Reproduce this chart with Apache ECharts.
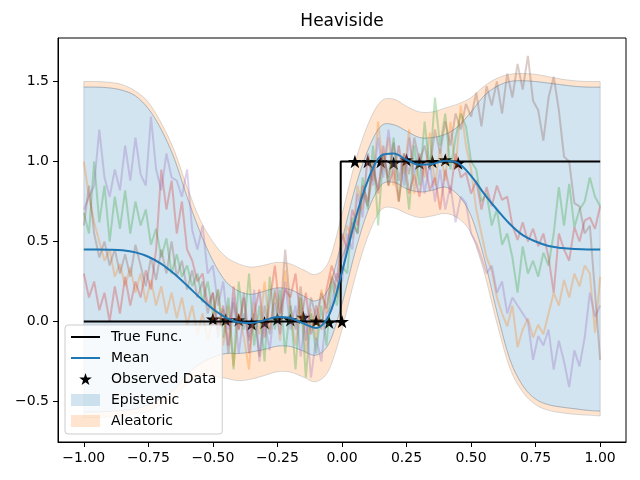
<!DOCTYPE html>
<html>
<head>
<meta charset="utf-8">
<title>Heaviside</title>
<script src="https://cdn.jsdelivr.net/npm/echarts@6/dist/echarts.min.js"></script>
<style>
  html, body { margin: 0; padding: 0; background: #fff; }
  #chart { width: 640px; height: 480px; }
</style>
</head>
<body>
<div id="chart"></div>
<script>
// posterior mean and band edges, every 0.05
const bandX = [-1.00, -0.95, -0.90, -0.85, -0.80, -0.75, -0.70, -0.65, -0.60, -0.55,
  -0.50, -0.45, -0.40, -0.35, -0.30, -0.25, -0.20, -0.15, -0.10, -0.05,
  0.00, 0.05, 0.10, 0.15, 0.20, 0.25, 0.30, 0.35, 0.40, 0.45,
  0.50, 0.55, 0.60, 0.65, 0.70, 0.75, 0.80, 0.85, 0.90, 0.95, 1.00]
const meanY = [0.450, 0.450, 0.449, 0.445, 0.432, 0.405, 0.360, 0.298, 0.225, 0.148,
  0.078, 0.025, -0.005, -0.010, 0.008, 0.028, 0.022, -0.012, -0.040, 0.040,
  0.310, 0.630, 0.880, 1.035, 1.050, 1.010, 0.980, 0.985, 1.005, 0.990,
  0.910, 0.800, 0.700, 0.610, 0.540, 0.500, 0.472, 0.460, 0.453, 0.450, 0.450]
// outer edge of aleatoric band (top)
const aleTop = [1.500, 1.500, 1.495, 1.480, 1.440, 1.370, 1.240, 1.070, 0.840, 0.638,
  0.498, 0.405, 0.360, 0.340, 0.353, 0.370, 0.360, 0.323, 0.295, 0.380,
  0.670, 0.990, 1.230, 1.375, 1.390, 1.345, 1.310, 1.310, 1.335, 1.360,
  1.400, 1.470, 1.520, 1.545, 1.550, 1.545, 1.530, 1.515, 1.505, 1.500, 1.500]
// epistemic band (top)
const epiTop = [1.465, 1.465, 1.460, 1.445, 1.410, 1.330, 1.200, 1.020, 0.780, 0.560,
  0.380, 0.250, 0.190, 0.170, 0.190, 0.210, 0.200, 0.160, 0.130, 0.215,
  0.510, 0.830, 1.070, 1.220, 1.230, 1.190, 1.150, 1.150, 1.170, 1.220,
  1.310, 1.410, 1.470, 1.500, 1.505, 1.500, 1.490, 1.480, 1.470, 1.465, 1.465]
// epistemic band (bottom)
const epiBottom = [-0.565, -0.565, -0.562, -0.555, -0.546, -0.520, -0.480, -0.424, -0.330, -0.264,
  -0.224, -0.200, -0.200, -0.190, -0.174, -0.154, -0.156, -0.184, -0.210, -0.135,
  0.110, 0.430, 0.690, 0.850, 0.870, 0.830, 0.810, 0.820, 0.840, 0.790,
  0.660, 0.400, 0.060, -0.235, -0.400, -0.485, -0.520, -0.535, -0.545, -0.555, -0.560]
// outer edge of aleatoric band (bottom)
const aleBottom = [-0.600, -0.600, -0.597, -0.590, -0.576, -0.560, -0.520, -0.474, -0.390, -0.342,
  -0.342, -0.355, -0.370, -0.360, -0.337, -0.314, -0.316, -0.347, -0.375, -0.300,
  -0.050, 0.270, 0.530, 0.695, 0.710, 0.675, 0.650, 0.660, 0.675, 0.645,
  0.550, 0.310, -0.010, -0.290, -0.440, -0.520, -0.555, -0.570, -0.580, -0.585, -0.590]

// five posterior samples, every 0.02
const sampleX = [-1.00, -0.98, -0.96, -0.94, -0.92, -0.90, -0.88, -0.86, -0.84, -0.82,
  -0.80, -0.78, -0.76, -0.74, -0.72, -0.70, -0.68, -0.66, -0.64, -0.62,
  -0.60, -0.58, -0.56, -0.54, -0.52, -0.50, -0.48, -0.46, -0.44, -0.42,
  -0.40, -0.38, -0.36, -0.34, -0.32, -0.30, -0.28, -0.26, -0.24, -0.22,
  -0.20, -0.18, -0.16, -0.14, -0.12, -0.10, -0.08, -0.06, -0.04, -0.02,
  0.00, 0.02, 0.04, 0.06, 0.08, 0.10, 0.12, 0.14, 0.16, 0.18,
  0.20, 0.22, 0.24, 0.26, 0.28, 0.30, 0.32, 0.34, 0.36, 0.38,
  0.40, 0.42, 0.44, 0.46, 0.48, 0.50, 0.52, 0.54, 0.56, 0.58,
  0.60, 0.62, 0.64, 0.66, 0.68, 0.70, 0.72, 0.74, 0.76, 0.78,
  0.80, 0.82, 0.84, 0.86, 0.88, 0.90, 0.92, 0.94, 0.96, 0.98, 1.00]
const sampleOrange = [1.00, 0.78, 0.62, 0.50, 0.38, 0.45, 0.28, 0.36, 0.22, 0.34,
  0.18, 0.30, 0.12, 0.26, 0.10, 0.22, 0.05, 0.18, 0.02, 0.15,
  -0.02, 0.10, -0.08, 0.05, -0.12, 0.02, 0.20, -0.15, 0.10, -0.28,
  0.05, -0.10, -0.30, 0.12, -0.08, 0.25, -0.05, 0.18, -0.12, 0.32,
  0.05, -0.15, 0.15, -0.20, 0.08, -0.12, 0.20, 0.05, 0.30, 0.15,
  0.45, 0.60, 0.52, 0.85, 0.70, 1.05, 0.88, 1.25, 0.95, 1.15,
  0.85, 1.10, 0.92, 1.20, 0.80, 1.05, 0.90, 1.18, 0.85, 1.08,
  0.88, 1.25, 0.95, 1.35, 1.10, 0.95, 0.70, 0.55, 0.40, 0.32,
  0.15, 0.05, -0.03, 0.10, -0.16, -0.05, 0.02, -0.10, -0.02, -0.08,
  0.05, 0.18, 0.10, 0.26, 0.15, 0.30, 0.22, 0.35, 0.30, -0.07, 0.28]
const sampleGreen = [0.68, 0.55, 1.00, 0.62, 0.85, 0.50, 0.78, 0.58, 0.82, 0.55,
  0.75, 0.60, 0.70, 0.48, 0.58, 0.40, 0.52, 0.30, 0.42, 0.28,
  0.35, 0.22, 0.30, 0.12, 0.25, 0.05, 0.20, -0.10, 0.15, -0.30,
  0.25, -0.05, 0.30, -0.15, 0.10, -0.25, 0.28, -0.05, 0.20, -0.20,
  0.10, -0.30, 0.15, -0.35, 0.05, -0.20, 0.10, -0.15, 0.25, 0.10,
  0.35, 0.30, 0.65, 0.55, 0.90, 0.70, 1.10, 0.60, 1.05, 0.85,
  1.15, 0.75, 1.00, 0.70, 1.10, 0.85, 1.25, 0.95, 1.40, 1.10,
  1.30, 0.95, 1.15, 1.30, 1.22, 1.00, 0.95, 0.75, 0.80, 0.60,
  0.70, 0.48, 0.55, 0.40, 0.18, 0.47, 0.30, 0.38, 0.28, 0.43,
  0.35, 0.55, 0.84, 0.60, 0.86, 0.59, 0.70, 0.75, 0.90, 0.78, 0.72]
const sampleRed = [0.30, 0.15, 0.25, 0.07, 0.18, 0.00, 0.22, 0.05, 0.28, 0.10,
  0.25, 0.15, 0.32, 0.20, 0.45, 0.95, 0.70, 0.88, 0.55, 0.75,
  0.45, 0.38, 0.25, 0.30, 0.10, 0.18, -0.05, 0.10, -0.15, 0.22,
  -0.05, 0.15, -0.20, 0.05, 0.20, -0.10, 0.12, 0.35, 0.05, 0.20,
  0.15, 0.30, 0.00, 0.18, -0.08, 0.10, -0.05, 0.20, 0.35, 0.25,
  0.55, 0.45, 0.70, 0.60, 0.85, 0.75, 1.00, 0.80, 1.10, 0.85,
  0.95, 0.75, 1.05, 0.80, 0.92, 0.78, 1.00, 0.82, 0.90, 0.70,
  0.95, 0.80, 1.05, 0.90, 0.93, 0.80, 0.88, 0.70, 0.84, 0.72,
  0.85, 0.76, 0.78, 0.60, 0.51, 0.62, 0.50, 0.58, 0.47, 0.55,
  0.40, 0.18, 0.55, 0.45, 0.38, 0.59, 0.50, 0.63, 0.65, 0.58, 0.72]
const samplePurple = [0.70, 0.78, 0.85, 1.20, 0.90, 0.78, 0.95, 0.82, 1.10, 0.88,
  1.15, 0.92, 0.85, 1.28, 0.95, 0.82, 1.05, 0.90, 0.88, 0.78,
  0.95, 0.57, 0.45, 0.60, 0.30, 0.35, 0.10, 0.25, -0.05, 0.15,
  -0.20, 0.05, -0.10, 0.20, -0.25, 0.00, -0.18, 0.12, -0.08, 0.25,
  -0.05, 0.10, -0.22, 0.05, -0.35, -0.10, -0.25, 0.05, 0.10, 0.30,
  0.25, 0.55, 0.45, 0.80, 0.65, 1.05, 0.85, 1.15, 0.90, 1.20,
  0.95, 1.10, 0.85, 1.15, 0.92, 1.05, 0.80, 1.00, 0.75, 0.95,
  0.70, 0.85, 0.62, 0.78, 0.74, 0.55, 0.49, 0.40, 0.30, 0.35,
  0.18, 0.25, 0.05, 0.15, 0.10, 0.05, 0.00, -0.24, -0.09, -0.15,
  -0.05, -0.30, -0.12, -0.25, -0.41, -0.18, -0.28, -0.10, 0.18, 0.03, 0.10]
const sampleBrown = [0.60, 0.85, 0.55, 0.40, 0.50, 0.35, 0.45, 0.30, 0.42, 0.28,
  0.48, 0.35, 0.22, 0.40, 0.26, 0.45, 0.30, 0.50, 0.28, 0.38,
  0.20, 0.32, 0.15, 0.25, 0.05, 0.18, -0.10, 0.08, -0.20, 0.12,
  -0.05, 0.18, -0.12, 0.05, -0.22, 0.10, -0.08, 0.20, 0.02, 0.45,
  0.10, -0.05, 0.22, -0.12, 0.15, 0.02, 0.18, 0.08, 0.28, 0.20,
  0.40, 0.48, 0.62, 0.55, 0.80, 0.72, 0.95, 0.82, 1.05, 0.90,
  1.12, 0.88, 1.05, 0.92, 1.15, 1.00, 1.10, 0.95, 1.20, 1.05,
  1.25, 1.10, 1.30, 1.20, 1.36, 1.28, 1.43, 1.22, 1.47, 1.35,
  1.50, 1.30, 1.55, 1.40, 1.61, 1.45, 1.66, 1.38, 1.32, 1.13,
  1.40, 1.53, 1.32, 1.03, 1.00, 0.74, 0.72, 0.55, 0.60, 0.18, -0.24]

// observed data
const obsX = [-0.50, -0.45, -0.40, -0.35, -0.30, -0.25, -0.20, -0.15, -0.10, -0.05, 0.00,
  0.05, 0.10, 0.15, 0.20, 0.25, 0.30, 0.35, 0.40, 0.45]
const obsY = [0.015, 0.010, 0.010, -0.015, -0.007, 0.015, 0.010, 0.026, 0.003, -0.005, 0.000,
  1.000, 1.000, 1.000, 0.990, 1.010, 0.990, 1.000, 1.010, 0.990]

// true function (step)
const trueX = [-1.0, -0.005, -0.005, 1.0]
const trueY = [0, 0, 1, 1]

const xTicks = [-1.0, -0.75, -0.5, -0.25, 0.0, 0.25, 0.5, 0.75, 1.0]
const yTicks = [-0.5, 0.0, 0.5, 1.0, 1.5]

const FONT = 'DejaVu Sans'
const STAR = 'path://M100,0 L122.45,69.1 L195.11,69.1 L136.33,111.8 L158.78,180.9 L100,138.2 L41.22,180.9 L63.67,111.8 L4.89,69.1 L77.55,69.1 Z'
const BLUE_FILL = 'rgba(31,119,180,0.2)'
const ORANGE_FILL = 'rgba(255,127,14,0.2)'
const EDGE = 'rgba(80,100,120,0.22)'

const pairs = (xs, ys) => xs.map((x, i) => [x, ys[i]])
const minus = s => s.replace('-', '\u2212')

// catmull-rom through pixel points, as svg path commands
function spline(pts, first) {
  let d = (first ? 'M' : 'L') + pts[0][0] + ',' + pts[0][1]
  for (let i = 0; i < pts.length - 1; i++) {
    const p0 = pts[Math.max(i - 1, 0)], p1 = pts[i], p2 = pts[i + 1], p3 = pts[Math.min(i + 2, pts.length - 1)]
    const c1 = [p1[0] + (p2[0] - p0[0]) / 6, p1[1] + (p2[1] - p0[1]) / 6]
    const c2 = [p2[0] - (p3[0] - p1[0]) / 6, p2[1] - (p3[1] - p1[1]) / 6]
    d += 'C' + c1[0] + ',' + c1[1] + ' ' + c2[0] + ',' + c2[1] + ' ' + p2[0] + ',' + p2[1]
  }
  return d
}

// filled region between two edges
const bandSeries = (name, lower, upper, fill) => ({
  name: name,
  type: 'custom',
  data: [0],
  z: 1,
  silent: true,
  renderItem: (params, api) => {
    const top = bandX.map((x, i) => api.coord([x, upper[i]]))
    const bottom = bandX.map((x, i) => api.coord([x, lower[i]])).reverse()
    return {
      type: 'path',
      shape: { pathData: spline(top, true) + spline(bottom, false) + 'Z' },
      style: { fill: fill, stroke: EDGE, lineWidth: 1 }
    }
  }
})

const sampleSeries = (data, color) => ({
  type: 'line',
  data: pairs(sampleX, data),
  symbol: 'none',
  z: 3,
  silent: true,
  lineStyle: { color: color, width: 2, opacity: 0.3 }
})

const noMarker = { color: 'rgba(0,0,0,0)', borderColor: 'rgba(0,0,0,0)', borderWidth: 0 }

const option = {
  animation: false,
  backgroundColor: '#fff',
  graphic: [{
    type: 'text', x: 342, y: 22,
    style: { text: 'Heaviside', textAlign: 'center', textVerticalAlign: 'middle',
      fontFamily: FONT, fontSize: 17, fill: '#000' }
  }],
  grid: { left: 58, right: 14, top: 38, bottom: 38, show: true, borderColor: '#000', borderWidth: 1 },
  xAxis: {
    type: 'value', min: -1.1, max: 1.1,
    splitLine: { show: false },
    axisLine: { onZero: false, lineStyle: { color: '#000', width: 1 } },
    axisTick: { show: true, length: 5, lineStyle: { color: '#000' }, customValues: xTicks },
    axisLabel: { customValues: xTicks, color: '#000', fontFamily: FONT, fontSize: 14, margin: 9,
      formatter: v => minus(v.toFixed(2)) }
  },
  yAxis: {
    type: 'value', min: -0.753, max: 1.772,
    splitLine: { show: false },
    axisLine: { show: true, onZero: false, lineStyle: { color: '#000', width: 1 } },
    axisTick: { show: true, length: 5, lineStyle: { color: '#000' }, customValues: yTicks },
    axisLabel: { customValues: yTicks, color: '#000', fontFamily: FONT, fontSize: 14, margin: 9,
      formatter: v => minus(v.toFixed(1)) }
  },
  legend: {
    orient: 'vertical',
    left: 65, top: 325,
    padding: [5, 6, 6, 5],
    itemWidth: 29, itemHeight: 12, itemGap: 7,
    backgroundColor: 'rgba(255,255,255,0.8)',
    borderColor: '#cccccc', borderWidth: 1, borderRadius: 3,
    selectedMode: false,
    symbolKeepAspect: true,
    textStyle: { fontFamily: FONT, fontSize: 14, color: '#000', padding: [0, 0, 0, 6] },
    data: [
      { name: 'True Func.', itemStyle: noMarker },
      { name: 'Mean', itemStyle: noMarker },
      { name: 'Observed Data' },
      { name: 'Epistemic', icon: 'rect', itemStyle: { color: BLUE_FILL, borderWidth: 0 } },
      { name: 'Aleatoric', icon: 'rect', itemStyle: { color: ORANGE_FILL, borderWidth: 0 } }
    ]
  },
  series: [
    bandSeries('Aleatoric', epiTop, aleTop, ORANGE_FILL),
    bandSeries('Aleatoric', aleBottom, epiBottom, ORANGE_FILL),
    bandSeries('Epistemic', epiBottom, epiTop, BLUE_FILL),
    {
      name: 'Observed Data',
      type: 'scatter',
      data: pairs(obsX, obsY),
      symbol: STAR,
      symbolSize: 14,
      symbolKeepAspect: true,
      z: 2,
      silent: true,
      itemStyle: { color: '#000', opacity: 1 }
    },
    sampleSeries(sampleOrange, '#ff7f0e'),
    sampleSeries(sampleGreen, '#2ca02c'),
    sampleSeries(sampleRed, '#d62728'),
    sampleSeries(samplePurple, '#9467bd'),
    sampleSeries(sampleBrown, '#8c564b'),
    {
      name: 'True Func.',
      type: 'line',
      data: pairs(trueX, trueY),
      symbol: 'none',
      z: 4,
      silent: true,
      lineStyle: { color: '#000', width: 2 }
    },
    {
      name: 'Mean',
      type: 'line',
      data: pairs(bandX, meanY),
      smooth: 0.35,
      symbol: 'none',
      z: 5,
      silent: true,
      lineStyle: { color: '#1f77b4', width: 2 }
    }
  ]
}

const chart = echarts.init(document.getElementById('chart'), null, { renderer: 'canvas' })
chart.setOption(option)
</script>
</body>
</html>
